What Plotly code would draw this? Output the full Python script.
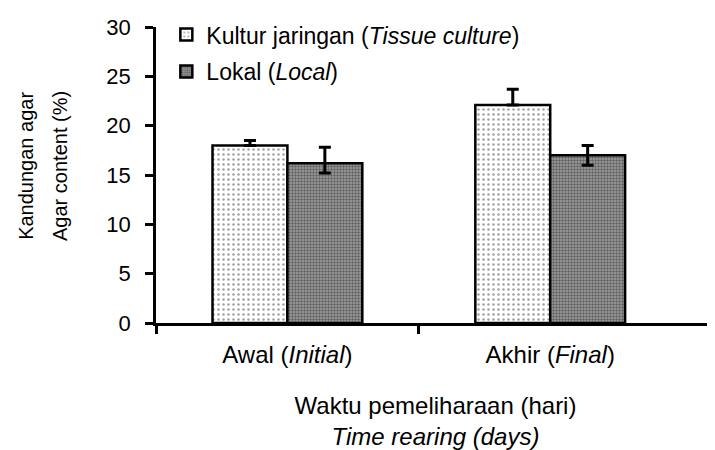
import plotly.graph_objects as go

categories = ["Awal (<i>Initial</i>)", "Akhir (<i>Final</i>)"]
kultur = [18.0, 22.1]
kultur_err_plus = [0.5, 1.6]
kultur_err_minus = [0, 0]
lokal = [16.2, 17.0]
lokal_err_plus = [1.6, 1.0]
lokal_err_minus = [1.0, 1.0]
y_ticks = [0, 5, 10, 15, 20, 25, 30]
y_title_lines = ["Kandungan agar", "Agar content (%)"]

FONT = "Liberation Sans"
x = [0, 1]

fig = go.Figure()
fig.add_trace(go.Bar(
    x=x, y=kultur, name="Kultur jaringan (<i>Tissue culture</i>)", legendgroup="a",
    marker=dict(color="white", line=dict(color="black", width=2.5),
                pattern=dict(shape=".", fgcolor="#444", bgcolor="white", size=5, solidity=0.2)),
    error_y=dict(type="data", array=kultur_err_plus, arrayminus=kultur_err_minus,
                 color="black", thickness=3, width=6),
))
fig.add_trace(go.Bar(
    x=x, y=lokal, name="Lokal (<i>Local</i>)", legendgroup="b",
    marker=dict(color="#808080", line=dict(color="black", width=2.5),
                pattern=dict(shape=".", fgcolor="#222", bgcolor="#a0a0a0", size=3, solidity=0.5)),
    error_y=dict(type="data", array=lokal_err_plus, arrayminus=lokal_err_minus,
                 color="black", thickness=3, width=6),
))

# y-axis title as two rotated lines (wider line spacing than <br>)
for txt, xp in zip(y_title_lines, [-0.233, -0.172]):
    fig.add_annotation(text=txt, xref="paper", yref="paper", x=xp, y=0.53,
                       xanchor="center", yanchor="middle", textangle=-90, showarrow=False,
                       font=dict(family=FONT, size=20, color="black"))

fig.update_layout(
    width=707, height=442,
    margin=dict(l=148, r=0, t=19, b=127, autoexpand=False),
    paper_bgcolor="white", plot_bgcolor="white",
    barmode="group", bargap=0.43, bargroupgap=0,
    font=dict(family=FONT, size=20, color="black"),
    showlegend=True,
    legend=dict(x=0.0185, y=1.047, xanchor="left", yanchor="top",
                font=dict(family=FONT, size=23), traceorder="grouped",
                bgcolor="rgba(0,0,0,0)", itemwidth=30, tracegroupgap=4),
    xaxis=dict(
        range=[-0.5, 1.627], tickmode="array", tickvals=x, ticktext=categories,
        ticks="", showline=True, linecolor="black", linewidth=2.5, showgrid=False,
        zeroline=False, tickfont=dict(family=FONT, size=24), ticklabelstandoff=8,
        minor=dict(tickmode="array", tickvals=[-0.5, 0.5], ticks="outside", ticklen=8,
                   tickwidth=2.5, tickcolor="black", showgrid=False),
        title=dict(text="Waktu pemeliharaan (hari)<br><i>Time rearing (days)</i>",
                   font=dict(family=FONT, size=24), standoff=32),
    ),
    yaxis=dict(
        range=[0, 30], tickmode="array", tickvals=y_ticks, ticks="outside", ticklen=8,
        tickwidth=2.5, tickcolor="black", showline=True, linecolor="black", linewidth=2.5,
        showgrid=False, zeroline=False, tickfont=dict(family=FONT, size=22),
        ticklabelstandoff=10,
    ),
)

fig.write_html("out.html")
